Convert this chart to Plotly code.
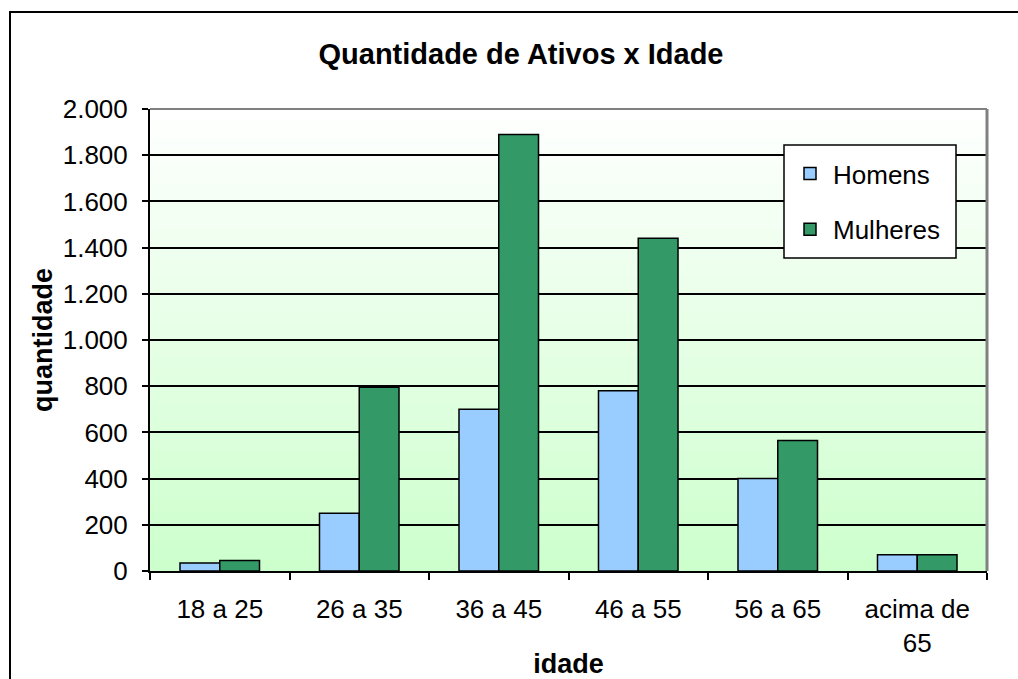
import plotly.graph_objects as go

categories = ["18 a 25", "26 a 35", "36 a 45", "46 a 55", "56 a 65", "acima de<br>65"]
homens = [35, 250, 700, 780, 400, 70]
mulheres = [45, 795, 1890, 1440, 565, 70]
y_ticks = [0, 200, 400, 600, 800, 1000, 1200, 1400, 1600, 1800, 2000]

W, H = 1018, 679
L, R, T, B = 150, 31, 109, 108
pw, ph = W - L - R, H - T - B

def px_x(p):
    return (p - L) / pw

def px_y(p):
    return (H - B - p) / ph

FONT = "Liberation Sans, Arial, sans-serif"

fig = go.Figure()
fig.add_trace(go.Bar(name="Homens", x=categories, y=homens,
                     marker=dict(color="#99CCFF", line=dict(color="black", width=1.5)),
                     legendgroup="h"))
fig.add_trace(go.Bar(name="Mulheres", x=categories, y=mulheres,
                     marker=dict(color="#339966", line=dict(color="black", width=1.5)),
                     legendgroup="m"))

shapes = []
N = 80
c0 = (0xCC, 0xFF, 0xCC)
c1 = (0xFF, 0xFF, 0xFF)
for i in range(N):
    t = (i + 0.5) / N
    col = tuple(int(round(c0[k] + (c1[k] - c0[k]) * t)) for k in range(3))
    shapes.append(dict(type="rect", xref="paper", yref="paper",
                       x0=0, x1=1, y0=i / N, y1=(i + 1) / N + 0.002,
                       fillcolor="rgb(%d,%d,%d)" % col, line=dict(width=0), layer="below"))
# plot area top / right border (grey)
shapes.append(dict(type="line", xref="paper", yref="paper", x0=0, x1=1, y0=1, y1=1,
                   line=dict(color="#808080", width=2), layer="above"))
shapes.append(dict(type="line", xref="paper", yref="paper", x0=1, x1=1, y0=0, y1=1,
                   line=dict(color="#808080", width=3), layer="above"))
# legend box
shapes.append(dict(type="rect", xref="paper", yref="paper",
                   x0=px_x(784), x1=px_x(956), y0=px_y(258), y1=px_y(145),
                   line=dict(color="black", width=1.5), fillcolor="white", layer="above"))
# outer chart border (extends past right and bottom edges)
shapes.append(dict(type="rect", xref="paper", yref="paper",
                   x0=px_x(10), x1=px_x(1030), y0=px_y(690), y1=px_y(12),
                   line=dict(color="black", width=2), fillcolor="rgba(0,0,0,0)", layer="above"))

fig.update_layout(
    width=W, height=H,
    margin=dict(l=L, r=R, t=T, b=B, autoexpand=False),
    paper_bgcolor="white", plot_bgcolor="rgba(0,0,0,0)",
    font=dict(family=FONT, size=26, color="black"),
    separators=",.",
    barmode="group", bargap=0.43, bargroupgap=0,
    title=dict(text="<b>Quantidade de Ativos x Idade</b>", xref="container", yref="container",
               x=521 / W, y=1 - 54 / H, xanchor="center", yanchor="middle",
               font=dict(family=FONT, size=29, color="black")),
    showlegend=True,
    legend=dict(x=px_x(787), y=px_y(150), xanchor="left", yanchor="top",
                bgcolor="rgba(0,0,0,0)", borderwidth=0,
                font=dict(family=FONT, size=26, color="black"),
                itemwidth=36,
                traceorder="grouped", tracegroupgap=19),
    shapes=shapes,
)
fig.update_xaxes(type="category", showline=True, linecolor="black", linewidth=2,
                 ticks="outside", tickson="boundaries", ticklen=7, tickwidth=1.5, tickcolor="black",
                 showgrid=False, zeroline=False, ticklabelstandoff=14,
                 tickfont=dict(family=FONT, size=26),
                 title=dict(text="<b>idade</b>", font=dict(family=FONT, size=27), standoff=0))
fig.update_yaxes(range=[0, 2000], tickvals=y_ticks, tickformat=",d",
                 showline=True, linecolor="black", linewidth=2,
                 ticks="outside", ticklen=6, tickwidth=1.5, tickcolor="black",
                 showgrid=True, gridcolor="black", gridwidth=1.5, zeroline=False,
                 ticklabelstandoff=9,
                 tickfont=dict(family=FONT, size=26),
                 title=dict(text="<b>quantidade</b>", font=dict(family=FONT, size=27), standoff=2))

fig.write_html("out.html", config={"displayModeBar": False},
               post_script="document.body.style.margin='0';")
